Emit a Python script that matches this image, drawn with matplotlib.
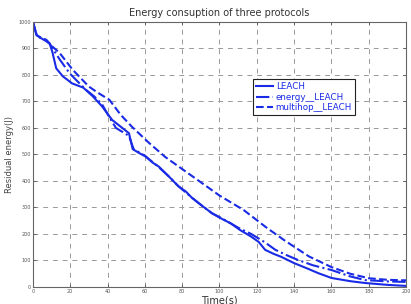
import matplotlib
matplotlib.use("Agg")
import matplotlib.pyplot as plt

# LEACH (solid)
t_leach = [0, 1, 2, 4, 7, 9, 10.5, 12.5, 16, 21, 27, 32, 37, 42.5, 47, 51.5, 53.5, 57, 60.5, 64,
           67.5, 73, 78, 82, 85, 90, 96, 101, 106, 111, 117, 121, 124.5, 129, 133, 140, 147, 153,
           160, 170, 178, 190, 200]
e_leach = [1000, 975, 950, 940, 928, 918, 885, 825, 795, 768, 752, 720, 682, 630, 605, 580, 520,
           505, 492, 470, 454, 416, 380, 360, 338, 310, 278, 258, 240, 215, 190, 170, 140, 125,
           114, 90, 70, 52, 34, 22, 15, 8, 4]

# energy__LEACH (dash-dot)
t_energy = [0, 1, 2, 4, 7, 9, 11, 14.5, 19.7, 24, 28.6, 33, 37, 41, 44.5, 48, 51.5, 54, 60, 67,
            73, 78, 85, 90, 96, 101, 106, 111, 117, 124, 130, 136, 142, 150, 160, 170, 178, 190, 200]
e_energy = [1000, 975, 950, 940, 930, 918, 895, 857, 806, 775, 743, 718, 690, 640, 600, 585, 570,
            520, 495, 455, 416, 380, 338, 310, 278, 260, 240, 220, 200, 170, 140, 120, 102, 82,
            64, 40, 26, 21, 19]

# multihop__LEACH (dashed)
t_multi = [0, 1, 2, 4, 7.3, 10, 14.4, 21.4, 30, 35, 41, 47, 53, 62, 71, 80, 90, 100, 113, 125,
           135, 148, 160, 170, 180, 190, 200]
e_multi = [1000, 975, 950, 942, 932, 910, 882, 819, 756, 732, 706, 650, 605, 545, 490, 445, 395,
           345, 290, 225, 175, 115, 75, 50, 33, 27, 25]

x_ticks = list(range(0, 201, 20))
y_ticks = list(range(0, 1001, 100))

color = "#1a2be6"
fig = plt.figure(figsize=(4.11, 3.04), dpi=100)
ax = fig.add_axes([0.080, 0.056, 0.908, 0.872])

ax.plot(t_leach, e_leach, color=color, lw=1.5, ls="-", label="LEACH")
ax.plot(t_energy, e_energy, color=color, lw=1.5, ls="-.", label="energy__LEACH")
ax.plot(t_multi, e_multi, color=color, lw=1.5, ls="--", label="multihop__LEACH")

ax.set_xlim(0, 200)
ax.set_ylim(0, 1000)
ax.set_xticks(x_ticks)
ax.set_yticks(y_ticks)
ax.tick_params(labelsize=3.5, direction="in", length=2.5, width=0.6, pad=1.5,
               top=True, right=True, colors="#555555")
ax.grid(True, ls=(0, (5, 5)), color="#999999", lw=0.7)
for s in ax.spines.values():
    s.set_color("#666666")
    s.set_linewidth(0.8)

ax.set_title("Energy consuption of three protocols", fontsize=7, color="#333333", pad=4)
ax.set_xlabel("Time(s)", fontsize=7, color="#333333", labelpad=1)
ax.set_ylabel("Residual energy(J)", fontsize=6, color="#444444", labelpad=3)

leg = ax.legend(loc="upper left", bbox_to_anchor=(0.578, 0.80), fontsize=6.3, handlelength=2,
                handletextpad=0.3, borderpad=0.3, labelspacing=0.2, fancybox=False,
                framealpha=1, edgecolor="#222222")
for txt in leg.get_texts():
    txt.set_color(color)
leg.get_frame().set_linewidth(0.8)

fig.savefig("out.png", dpi=100)
